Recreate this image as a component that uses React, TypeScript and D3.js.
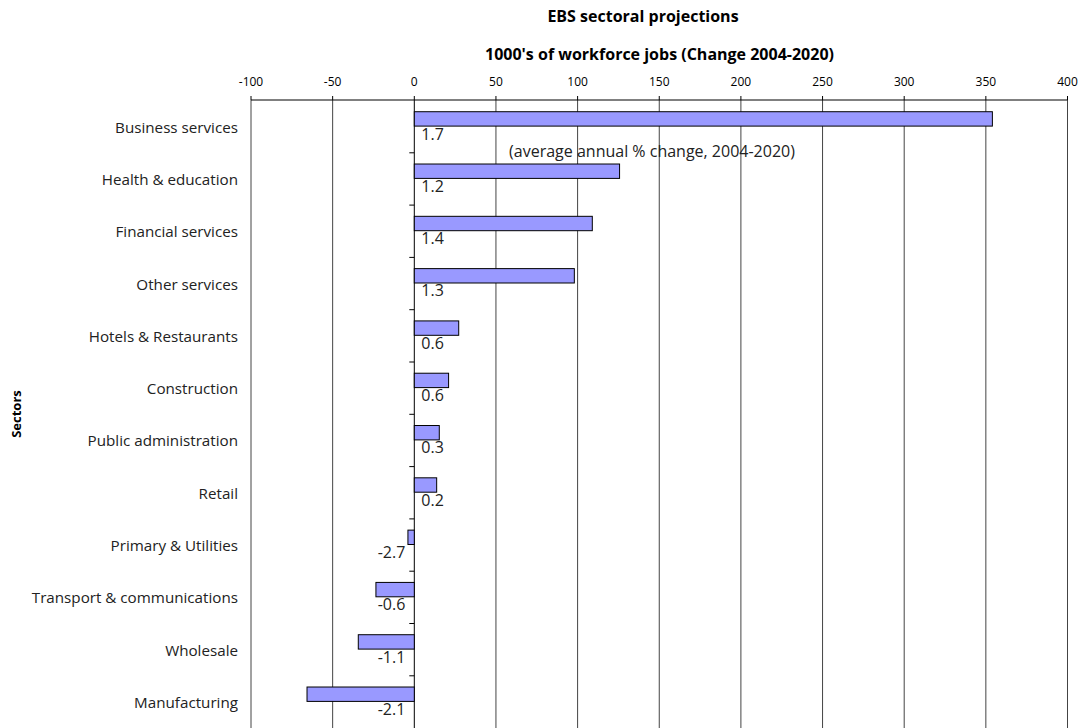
import React from "react";
import * as d3 from "d3";

const categories = [
  "Business services",
  "Health & education",
  "Financial services",
  "Other services",
  "Hotels & Restaurants",
  "Construction",
  "Public administration",
  "Retail",
  "Primary & Utilities",
  "Transport & communications",
  "Wholesale",
  "Manufacturing",
];
const jobsChange = [354, 125.7, 109, 98, 27.2, 21, 15.3, 13.7, -3.9, -23.5, -34.3, -65.7];
const annualPct = ["1.7", "1.2", "1.4", "1.3", "0.6", "0.6", "0.3", "0.2", "-2.7", "-0.6", "-1.1", "-2.1"];
const xTicks = [-100, -50, 0, 50, 100, 150, 200, 250, 300, 350, 400];

const W = 1082;
const H = 728;
const FONT = "'Open Sans', 'DejaVu Sans', sans-serif";

export default function App() {
  const x = d3.scaleLinear().domain([-100, 400]).range([251, 1067.5]);
  const y = d3.scaleBand().domain(categories).range([100, 727.6]).padding(0);
  const step = y.step();
  const x0 = x(0);

  return (
    <svg
      width={W}
      height={H}
      style={{ position: "absolute", left: 0, top: 0, background: "#fff" }}
      fontFamily={FONT}
    >
      <text x={643} y={21.5} textAnchor="middle" fontSize={16} fontWeight="bold">
        EBS sectoral projections
      </text>
      <text x={659.5} y={60} textAnchor="middle" fontSize={16} fontWeight="bold">
        1000's of workforce jobs (Change 2004-2020)
      </text>
      <text
        transform={`translate(20.5,414) rotate(-90)`}
        textAnchor="middle"
        fontSize={13}
        fontWeight="bold"
      >
        Sectors
      </text>

      {/* gridlines */}
      {xTicks.map((t) => (
        <line
          key={"g" + t}
          x1={x(t)}
          x2={x(t)}
          y1={100}
          y2={H}
          stroke={t === 0 ? "#000" : "#444"}
          strokeWidth={1}
        />
      ))}
      {/* top axis */}
      <line x1={x(-100)} x2={x(400)} y1={100} y2={100} stroke="#000" strokeWidth={1} />
      {xTicks.map((t) => (
        <g key={"t" + t}>
          <line x1={x(t)} x2={x(t)} y1={96} y2={100} stroke="#000" />
          <text x={x(t)} y={86} textAnchor="middle" fontSize={12}>
            {t}
          </text>
        </g>
      ))}

      {/* category ticks on zero axis */}
      {categories.map((c, i) =>
        i === 0 ? null : (
          <line
            key={"ct" + c}
            x1={x0 - 5}
            x2={x0}
            y1={(y(c) as number) + 0.5}
            y2={(y(c) as number) + 0.5}
            stroke="#000"
          />
        )
      )}

      {/* bars */}
      {categories.map((c, i) => {
        const v = jobsChange[i];
        const top = (y(c) as number) + step * 0.224;
        const h = step * 0.275;
        return (
          <rect
            key={"b" + c}
            x={Math.min(x(v), x0)}
            y={top}
            width={Math.abs(x(v) - x0)}
            height={h}
            fill="#9999FF"
            stroke="#000"
            strokeWidth={1}
          />
        );
      })}

      {/* category labels */}
      {categories.map((c) => (
        <text
          key={"l" + c}
          x={238}
          y={(y(c) as number) + 32.6}
          textAnchor="end"
          fontSize={15.2}
          fill="#222"
        >
          {c}
        </text>
      ))}

      {/* value labels */}
      {categories.map((c, i) => {
        const pos = jobsChange[i] >= 0;
        return (
          <text
            key={"v" + c}
            x={pos ? x0 + 7 : x0 - 9}
            y={(y(c) as number) + 39.5}
            textAnchor={pos ? "start" : "end"}
            fontSize={16}
            fill="#222"
          >
            {annualPct[i]}
          </text>
        );
      })}

      <text x={652} y={157} textAnchor="middle" fontSize={16} fill="#222">
        (average annual % change, 2004-2020)
      </text>
    </svg>
  );
}
